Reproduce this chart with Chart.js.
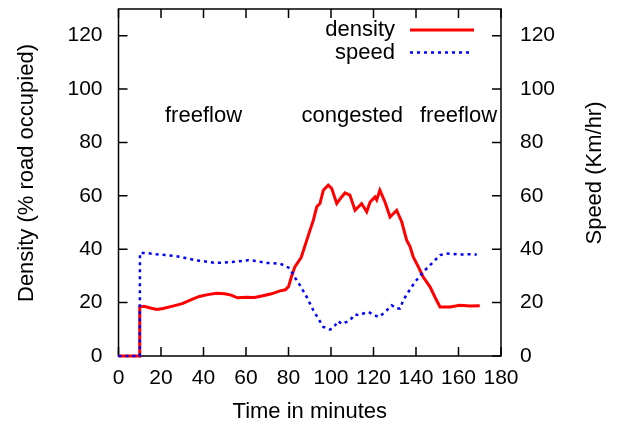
<!DOCTYPE html>
<html lang="en">
<head>
    <meta charset="UTF-8">
    <title>Density and speed over time</title>
    <script src="https://cdn.jsdelivr.net/npm/chart.js"></script>
    <style>
        body {
            margin: 0;
            padding: 0;
            background-color: #fff;
        }
    </style>
</head>
<body>
    <canvas id="chart" width="617" height="428"></canvas>

    <script>
        // values
        const densityTime = [0, 9.9, 10, 12, 15, 18, 21, 25, 30, 34, 38, 42, 46, 50, 53, 56, 60, 64, 68, 72, 76, 78.5, 80,
            81.5, 83, 86, 88.6, 91.7, 93.3, 94.8, 96.4, 98.7, 100.3, 102.7, 105, 106.6, 108.9, 111.3, 114.4, 116.8,
            118.4, 120.7, 121.5, 123, 125.4, 127.8, 130.9, 133.3, 135.6, 137.2, 138.7, 141.1, 143.4, 146.6, 148.9,
            151.3, 156, 160.7, 165.4, 170];
        const densityValues = [0, 0, 18.4, 18.6, 18.0, 17.4, 17.8, 18.6, 19.6, 21.0, 22.3, 23.0, 23.5, 23.3, 22.8, 21.8,
            22.0, 21.9, 22.6, 23.3, 24.4, 24.8, 26.0, 30.0, 33.4, 37.0, 43.4, 50.9, 55.9, 57.1, 62.1, 64.0, 62.8, 57.1,
            59.6, 61.1, 60.3, 54.6, 57.1, 54.0, 57.7, 59.6, 58.5, 62.1, 57.7, 52.1, 54.6, 50.2, 43.4, 41.0, 37.1, 33.4,
            29.6, 25.9, 22.1, 18.4, 18.4, 19.0, 18.7, 18.8];

        const speedTime = [0, 10, 10.1, 14, 18, 22, 26.6, 30, 36, 40, 45.4, 50, 54.8, 58, 61, 65, 69, 72, 76, 78.4, 80.7,
            82.3, 85.4, 88.6, 91.7, 94, 96.4, 99.5, 101, 103.4, 105, 107.4, 109, 111.3, 113, 115.2, 117.6, 120, 122.3,
            124, 126.2, 128.6, 130.9, 132.5, 134, 136.4, 139.5, 143.4, 148.1, 151.3, 154.4, 157, 160.7, 165, 168.6];
        const speedValues = [0, 0, 38.6, 38.5, 38.1, 37.8, 37.5, 37.0, 35.9, 35.5, 34.9, 35.0, 35.3, 35.6, 35.9, 35.6,
            34.9, 34.8, 34.6, 33.8, 32.8, 30.3, 26.5, 22.1, 17.1, 14.0, 10.9, 9.9, 10.5, 13.1, 12.0, 12.8, 13.5, 15.6,
            15.3, 15.9, 16.5, 15.5, 14.6, 15.5, 17.1, 19.0, 17.8, 17.8, 20.9, 24.0, 27.7, 31.5, 35.2, 37.8, 38.4, 38.3,
            38.0, 38.1, 38.0];

        const xTicks = [0, 20, 40, 60, 80, 100, 120, 140, 160, 180];
        const yTicks = [0, 20, 40, 60, 80, 100, 120];

        const regionNames = ['freeflow', 'congested', 'freeflow'];
        const regionTimes = [40, 110, 160];
        const regionLevel = 90;

        const fontFamily = '"Liberation Sans", Arial, Helvetica, sans-serif';
        const tickLen = 9;

        // gnuplot style box with inward ticks on all four sides
        const framePlugin = {
            id: 'frame',
            beforeDatasetsDraw(chart) {
                const { ctx, chartArea: a, scales } = chart;
                ctx.save();
                ctx.strokeStyle = '#000';
                ctx.lineWidth = 1.5;
                ctx.strokeRect(a.left, a.top, a.right - a.left, a.bottom - a.top);
                ctx.beginPath();
                xTicks.forEach(v => {
                    const px = scales.x.getPixelForValue(v);
                    ctx.moveTo(px, a.bottom);
                    ctx.lineTo(px, a.bottom - tickLen);
                    ctx.moveTo(px, a.top);
                    ctx.lineTo(px, a.top + tickLen);
                });
                yTicks.forEach(v => {
                    const py = scales.y.getPixelForValue(v);
                    ctx.moveTo(a.left, py);
                    ctx.lineTo(a.left + tickLen, py);
                    const py2 = scales.y1.getPixelForValue(v);
                    ctx.moveTo(a.right, py2);
                    ctx.lineTo(a.right - tickLen, py2);
                });
                ctx.stroke();
                ctx.restore();
            }
        };

        // region names, y titles and the key
        const textPlugin = {
            id: 'texts',
            afterDraw(chart) {
                const { ctx, chartArea: a, scales } = chart;
                ctx.save();
                ctx.fillStyle = '#000';
                ctx.font = '22px ' + fontFamily;
                ctx.textAlign = 'center';
                ctx.textBaseline = 'middle';
                regionNames.forEach((name, i) => {
                    ctx.fillText(name, scales.x.getPixelForValue(regionTimes[i]), scales.y.getPixelForValue(regionLevel));
                });

                ctx.save();
                ctx.translate(27, 173);
                ctx.rotate(-Math.PI / 2);
                ctx.fillText('Density (% road occupied)', 0, 0);
                ctx.restore();

                ctx.save();
                ctx.translate(595, 173);
                ctx.rotate(-Math.PI / 2);
                ctx.fillText('Speed (Km/hr)', 0, 0);
                ctx.restore();

                // key
                const sets = chart.data.datasets;
                const keyRows = [30, 52.5];
                [1, 0].forEach((di, row) => {
                    const ds = sets[di];
                    const y = keyRows[row];
                    ctx.textAlign = 'right';
                    ctx.fillStyle = '#000';
                    ctx.fillText(ds.label, 395, y);
                    ctx.beginPath();
                    ctx.strokeStyle = ds.borderColor;
                    ctx.lineWidth = ds.borderWidth;
                    ctx.setLineDash(ds.borderDash || []);
                    ctx.moveTo(410, y);
                    ctx.lineTo(ds.borderDash ? 471 : 474, y);
                    ctx.stroke();
                    ctx.setLineDash([]);
                });
                ctx.restore();
            }
        };

        function setTicks(list) {
            return function(scale) {
                scale.ticks = list.map(v => ({ value: v }));
            };
        }

        const tickFont = { family: fontFamily, size: 21 };

        new Chart(document.getElementById('chart').getContext('2d'), {
            type: 'line',
            data: {
                datasets: [{
                    label: 'speed',
                    data: speedTime.map((t, i) => ({ x: t, y: speedValues[i] })),
                    yAxisID: 'y1',
                    borderColor: '#0000ff',
                    borderWidth: 2.5,
                    borderDash: [3, 4],
                    pointRadius: 0,
                    tension: 0,
                    clip: false
                }, {
                    label: 'density',
                    data: densityTime.map((t, i) => ({ x: t, y: densityValues[i] })),
                    yAxisID: 'y',
                    borderColor: '#ff0000',
                    borderWidth: 3,
                    pointRadius: 0,
                    tension: 0,
                    clip: false
                }]
            },
            options: {
                responsive: false,
                animation: false,
                events: [],
                layout: { padding: { top: 9, left: 0, right: 0, bottom: 0 } },
                plugins: {
                    legend: { display: false },
                    tooltip: { enabled: false }
                },
                scales: {
                    x: {
                        type: 'linear',
                        min: 0,
                        max: 180,
                        afterBuildTicks: setTicks(xTicks),
                        afterFit: s => { s.height = 72; s.paddingLeft = 0; s.paddingRight = 0; },
                        grid: { display: false, drawTicks: false },
                        border: { display: false },
                        ticks: { color: '#000', font: tickFont, padding: 10, maxRotation: 0, autoSkip: false },
                        title: {
                            display: true,
                            text: 'Time in minutes',
                            color: '#000',
                            font: { family: fontFamily, size: 22 },
                            padding: { top: 0, bottom: 3 }
                        }
                    },
                    y: {
                        position: 'left',
                        min: 0,
                        max: 130,
                        afterBuildTicks: setTicks(yTicks),
                        afterFit: s => { s.width = 118.5; s.paddingTop = 0; s.paddingBottom = 0; },
                        grid: { display: false, drawTicks: false },
                        border: { display: false },
                        ticks: { color: '#000', font: tickFont, padding: 16 }
                    },
                    y1: {
                        position: 'right',
                        min: 0,
                        max: 130,
                        afterBuildTicks: setTicks(yTicks),
                        afterFit: s => { s.width = 116; s.paddingTop = 0; s.paddingBottom = 0; },
                        grid: { display: false, drawTicks: false },
                        border: { display: false },
                        ticks: { color: '#000', font: tickFont, padding: 19 }
                    }
                }
            },
            plugins: [framePlugin, textPlugin]
        });
    </script>
</body>
</html>
